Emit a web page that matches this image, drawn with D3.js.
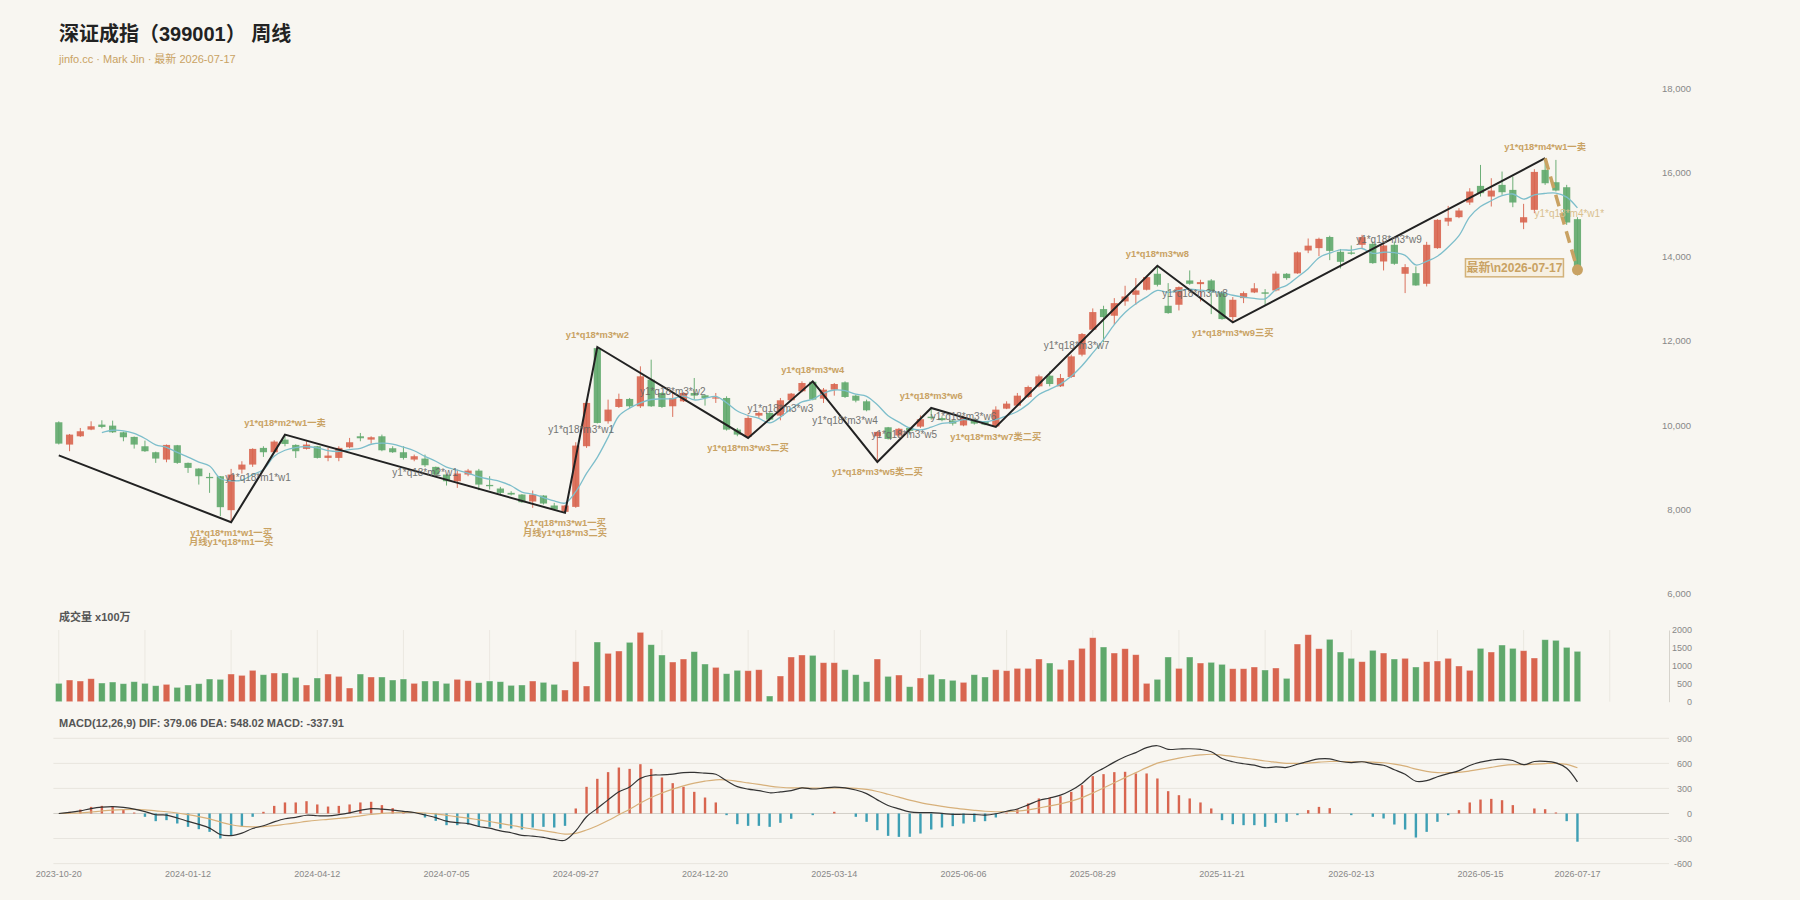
<!DOCTYPE html>
<html>
<head>
<meta charset="utf-8">
<script src="https://cdn.jsdelivr.net/npm/d3@7"></script>
<style>
body { margin: 0; background: #f8f6f1; }
svg { display: block; font-family: "Helvetica Neue", Arial, "Liberation Sans", "Noto Sans CJK SC", sans-serif; }
</style>
</head>
<body>
<svg id="chart" width="1800" height="900"></svg>
<script>
// weekly candles, index 0 = 2023-10-20 ... 141 = 2026-07-17
const open = [10068,9538,9735,9894,10012,9988,9830,9720,9498,9356,
  9182,9522,9103,8968,8770,8786,7980,8944,9063,9459,
  9356,9656,9530,9435,9498,9221,9221,9474,9735,9656,
  9735,9451,9356,9182,9205,9008,8826,8667,8826,8920,
  8580,8494,8391,8351,8185,8327,8090,7940,8058,9499,
  11830,10092,10432,10622,10448,11080,10764,10448,10566,10764,
  10709,10630,10645,9894,9720,10226,10290,10226,10590,10804,
  11030,10629,10843,11017,10700,10566,9736,9949,9755,9933,
  9965,10200,10167,10111,9993,10131,10091,9970,10392,10463,
  10669,10922,11175,10922,11144,11674,12267,12757,12599,12939,
  13097,13216,13596,12836,12860,13437,13350,13437,13152,12567,
  13018,13152,13155,13200,13596,13605,14149,14205,14470,14118,
  14102,14284,14308,13888,14284,13596,13611,13358,14205,14837,
  14941,15289,15684,15431,15708,15589,14814,15115,16064,15771,
  15652,14893]
const close = [9561,9775,9854,9973,9957,9830,9712,9538,9380,9206,
  9530,9103,8984,8786,8740,8051,8826,9063,9435,9356,
  9609,9553,9380,9538,9221,9277,9459,9593,9688,9712,
  9403,9356,9221,9261,9047,8826,8667,8850,8920,8588,
  8549,8391,8351,8169,8351,8138,7995,8090,9514,10527,
  10052,10369,10622,10448,11160,10448,10432,10645,10764,10701,
  10645,10661,9894,9775,10171,10290,10131,10590,10748,11001,
  10606,10843,10977,10669,10582,10353,9839,9672,9913,9866,
  10140,10167,10119,10036,10190,10036,10012,10368,10511,10700,
  10906,11160,10977,11120,11634,12164,12686,12567,12899,13057,
  13200,13516,13334,12662,13279,13358,13398,13176,12520,12978,
  13137,13250,13121,13600,13493,14105,14264,14426,14140,13880,
  14070,14466,13849,14268,13833,13754,13319,14284,14877,14925,
  15099,15550,15510,15573,15534,15289,14940,16016,15747,15573,
  14814,13650]
const low = [9540,9380,9720,9880,9925,9814,9617,9443,9364,9103,
  9118,9080,8865,8588,8391,7837,7694,8849,9008,9245,
  9340,9498,9221,9420,9206,9142,9142,9450,9617,9561,
  9380,9340,9182,9142,9008,8786,8565,8509,8786,8454,
  8470,8351,8330,8153,8035,8114,7979,7916,8035,9459,
  10040,10036,10408,10408,10408,10432,10408,10195,10550,10606,
  10464,10527,9870,9736,9696,10171,10092,10115,10570,10780,
  10590,10527,10700,10645,10542,10329,9127,9657,9720,9775,
  9933,10131,10092,9990,9973,10012,9996,9957,10380,10447,
  10645,10898,10922,10906,11120,11634,12251,11966,12385,12836,
  12860,13200,13295,12646,12725,13335,12939,12638,12504,12441,
  12899,13137,12860,13176,13453,13595,14086,14015,13920,13722,
  14047,14205,13833,13675,13809,13137,13311,13295,14189,14734,
  14917,15233,15431,15194,15471,15178,14656,15035,15708,15550,
  14758,13556]
const high = [10090,9790,9933,10091,10115,10107,9845,9730,9632,9370,
  9540,9530,9110,8975,8865,8790,8960,9142,9450,9498,
  9640,9775,9545,9617,9505,9459,9498,9696,9814,9735,
  9775,9498,9498,9300,9300,9015,8830,8944,8960,8960,
  8786,8533,8430,8360,8446,8335,8153,8100,9593,10540,
  11856,10606,10748,10645,11397,11555,10780,10764,10780,11120,
  10725,10764,10685,9933,10250,10329,10305,10645,10764,11040,
  11041,10882,11001,11040,10725,10606,9855,9957,9933,9957,
  10230,10408,10210,10120,10210,10147,10100,10447,10566,10764,
  10938,11199,11278,11215,11674,12188,12773,12836,13018,13311,
  13493,13548,13785,13374,13295,13675,13453,13469,13176,13042,
  13176,13374,13232,13651,13611,14126,14434,14454,14500,14185,
  14268,14521,14363,14379,14363,13825,13770,14355,14893,15209,
  15154,15629,16182,15866,16024,15906,15257,16080,16341,16301,
  15708,14940]
// volume, x100万
const volume = [512,605,577,642,521,549,503,559,512,447,
  484,400,466,503,633,624,772,735,875,754,
  800,800,679,466,661,772,707,382,772,689,
  689,605,633,512,577,577,512,624,586,531,
  577,559,456,466,577,540,484,326,1117,438,
  1665,1349,1414,1656,1935,1591,1303,1107,1191,1396,
  1051,958,782,875,865,893,159,717,1247,1303,
  1293,1089,1089,893,754,559,1191,707,744,419,
  661,763,633,596,540,754,689,893,865,930,
  930,1191,1079,903,1163,1488,1786,1526,1358,1479,
  1312,512,624,1247,930,1247,1079,1098,1042,921,
  921,968,884,940,651,1609,1870,1479,1740,1386,
  1210,1117,1433,1358,1191,1210,968,1117,1135,1210,
  996,875,1488,1386,1581,1488,1423,1219,1730,1712,
  1516,1405]
// MA5 (first 4 weeks empty)
const ma5 = [null,null,null,null,9824,9878,9865,9802,9683,9533,
  9473,9351,9241,9122,9029,8733,8677,8693,8823,8946,
  9258,9403,9467,9487,9460,9394,9375,9418,9448,9546,
  9571,9550,9476,9391,9258,9142,9004,8930,8862,8770,
  8715,8660,8560,8410,8362,8280,8201,8149,8418,8853,
  9236,9710,10217,10404,10530,10609,10622,10627,10690,10598,
  10637,10683,10533,10335,10229,10158,10052,10191,10386,10552,
  10615,10758,10835,10819,10735,10685,10484,10223,10072,9929,
  9886,9952,10041,10066,10130,10110,10079,10128,10223,10325,
  10499,10729,10851,10973,11159,11411,11716,12034,12390,12675,
  12882,13048,13201,13154,13198,13230,13206,13175,13146,13086,
  13042,13012,13001,13217,13320,13514,13717,13978,14086,14163,
  14156,14196,14081,14107,14097,14034,13805,13892,14013,14232,
  14501,14947,15192,15331,15453,15491,15369,15470,15505,15513,
  15418,15160]
// MACD(12,26,9)
const macdHist = [0,20,47,79,91,83,51,11,-40,-92,
  -80,-120,-160,-188,-220,-300,-260,-160,-40,20,
  91,132,132,147,108,83,91,108,132,140,
  100,64,28,0,-48,-88,-140,-140,-132,-160,
  -160,-180,-180,-192,-168,-160,-168,-148,60,319,
  415,495,550,534,590,534,431,363,319,259,
  191,132,-20,-128,-148,-148,-160,-112,-64,0,
  -20,0,20,0,-40,-100,-200,-268,-280,-280,
  -240,-192,-168,-152,-120,-100,-92,-48,10,51,
  120,180,191,207,259,339,447,471,495,499,
  479,479,419,267,219,180,132,60,-80,-128,
  -140,-140,-160,-112,-100,-20,40,79,64,0,
  -20,0,-40,-60,-132,-192,-288,-220,-100,-20,
  40,132,167,175,159,100,0,60,51,12,
  -92,-338]
const dif = [0,13,32,58,75,82,72,53,23,-15,
  -19,-54,-94,-131,-175,-252,-265,-235,-180,-147,
  -100,-63,-47,-21,-27,-29,-14,8,37,58,
  51,41,26,12,-18,-49,-92,-110,-122,-156,
  -176,-209,-231,-261,-270,-286,-311,-320,-208,-39,
  61,163,259,318,420,458,461,472,490,492,
  482,469,391,321,292,274,248,258,274,306,
  293,303,316,306,281,238,163,96,55,20,
  10,10,1,-10,-9,-12,-19,-3,27,54,
  103,156,185,219,278,360,470,541,615,679,
  729,789,811,768,772,775,767,739,659,619,
  595,578,548,558,551,589,624,653,654,622,
  609,619,594,577,524,470,386,393,440,478,
  513,575,614,639,651,634,584,622,624,606,
  542,379]
const dea = [0,3,8,18,30,40,46,48,43,31,
  21,6,-14,-37,-65,-102,-135,-155,-160,-157,
  -146,-129,-113,-95,-81,-71,-59,-46,-29,-12,
  1,9,12,12,6,-5,-22,-40,-56,-76,
  -96,-119,-141,-165,-186,-206,-227,-246,-238,-198,
  -147,-85,-16,51,125,191,245,291,331,363,
  387,403,401,385,366,348,328,314,306,306,
  303,303,306,306,301,288,263,230,195,160,
  130,106,85,66,51,38,27,21,22,28,
  43,66,90,116,148,190,246,305,367,429,
  489,549,602,635,662,685,701,709,699,683,
  665,648,628,614,601,599,604,614,622,622,
  619,619,614,607,590,566,530,503,490,488,
  493,509,530,552,572,584,584,592,598,600,
  588,548]

// x-axis tick labels
const tickIdx = [0,12,24,36,48,60,72,84,96,108,120,132,141]
const tickLabels = ['2023-10-20','2024-01-12','2024-04-12','2024-07-05','2024-09-27','2024-12-20',
  '2025-03-14','2025-06-06','2025-08-29','2025-11-21','2026-02-13','2026-05-15','2026-07-17']

// zigzag (缠论笔) turning points
const zzIdx = [0,16,21,47,50,64,70,76,81,87,102,109,138]
const zzVal = [9280,7694,9775,7916,11856,9696,11041,9127,10408,9957,13785,12441,16341]
const zzNote = ['', 'y1*q18*m1*w1一买|月线y1*q18*m1一买', 'y1*q18*m2*w1一卖',
  'y1*q18*m3*w1一买|月线y1*q18*m3二买', 'y1*q18*m3*w2', 'y1*q18*m3*w3二买', 'y1*q18*m3*w4',
  'y1*q18*m3*w5类二买', 'y1*q18*m3*w6', 'y1*q18*m3*w7类二买', 'y1*q18*m3*w8', 'y1*q18*m3*w9三买',
  'y1*q18*m4*w1一卖']
// name of the stroke ending at each turning point
const segName = ['', '', 'y1*q18*m1*w1', 'y1*q18*m2*w1', 'y1*q18*m3*w1', 'y1*q18*m3*w2', 'y1*q18*m3*w3',
  'y1*q18*m3*w4', 'y1*q18*m3*w5', 'y1*q18*m3*w6', 'y1*q18*m3*w7', 'y1*q18*m3*w8', 'y1*q18*m3*w9']
// unfinished stroke
const pendIdx = 141, pendVal = 13690, pendName = 'y1*q18*m4*w1*'

const UP = '#d8654f', DOWN = '#5fa86b'
const TAN = '#c9a263'

const W = 1800, H = 900
const svg = d3.select('#chart')
svg.append('rect').attr('width', W).attr('height', H).attr('fill', '#f8f6f1')

const x = d3.scaleBand().domain(d3.range(150)).range([53.4, 1669])
const cx = i => x(i) + x.bandwidth() / 2
const yMain = d3.scaleLinear().domain([6000, 18000]).range([593.5, 88.4])
const yVol = d3.scaleLinear().domain([0, 2000]).range([701.7, 630])
const yMacd = d3.scaleLinear().domain([-600, 900]).range([863.6, 738.3])
const n = close.length
const idx = d3.range(n)
const col = i => close[i] >= open[i] ? UP : DOWN

// title
svg.append('text').attr('x', 59).attr('y', 41).attr('font-size', 20).attr('font-weight', 'bold')
  .attr('fill', '#222').text('深证成指（399001） 周线')
svg.append('text').attr('x', 59).attr('y', 63).attr('font-size', 11).attr('fill', TAN)
  .text('jinfo.cc · Mark Jin · 最新 2026-07-17')

// ---- main panel ----
let mainAxis = svg.append('g').attr('transform', 'translate(1669,0)')
  .call(d3.axisRight(yMain).tickValues(d3.range(6000, 18001, 2000)).tickSize(0).tickPadding(22).tickFormat(d3.format(',')))
mainAxis.select('.domain').remove()
mainAxis.selectAll('text').attr('text-anchor', 'end').attr('fill', '#888').attr('font-size', 9.5)

let candles = svg.append('g').selectAll('g').data(idx).enter().append('g')
candles.append('line')
  .attr('x1', i => cx(i)).attr('x2', i => cx(i))
  .attr('y1', i => yMain(high[i])).attr('y2', i => yMain(low[i]))
  .attr('stroke', col).attr('stroke-width', 1).attr('opacity', 0.9)
candles.append('rect')
  .attr('x', i => cx(i) - 3.6).attr('width', 7.2)
  .attr('y', i => yMain(Math.max(open[i], close[i])))
  .attr('height', i => Math.max(1, Math.abs(yMain(open[i]) - yMain(close[i]))))
  .attr('fill', col).attr('opacity', 0.9)

svg.append('path').datum(idx)
  .attr('fill', 'none').attr('stroke', '#7dbecb').attr('stroke-width', 1.3)
  .attr('d', d3.line().defined(i => ma5[i] != null).x(i => cx(i)).y(i => yMain(ma5[i])).curve(d3.curveCatmullRom))

// zigzag
let zz = zzIdx.map((d, k) => ({ i: d, v: zzVal[k], k: k }))
svg.append('path').datum(zz)
  .attr('fill', 'none').attr('stroke', '#222').attr('stroke-width', 2)
  .attr('d', d3.line().x(d => cx(d.i)).y(d => yMain(d.v)))

let last = zz[zz.length - 1]
svg.append('line')
  .attr('x1', cx(last.i)).attr('y1', yMain(last.v)).attr('x2', cx(pendIdx)).attr('y2', yMain(pendVal))
  .attr('stroke', TAN).attr('stroke-width', 3.5).attr('stroke-dasharray', '12,7')
svg.append('circle').attr('cx', cx(pendIdx)).attr('cy', yMain(pendVal)).attr('r', 5.5).attr('fill', TAN)

// stroke names at segment midpoints
zz.forEach((d, k) => {
  if (!segName[k]) return
  let p = zz[k - 1]
  svg.append('text')
    .attr('x', (cx(p.i) + cx(d.i)) / 2).attr('y', (yMain(p.v) + yMain(d.v)) / 2)
    .attr('text-anchor', 'middle').attr('dominant-baseline', 'middle')
    .attr('font-size', 10).attr('fill', '#666').attr('opacity', 0.9).text(segName[k])
})
svg.append('text')
  .attr('x', (cx(last.i) + cx(pendIdx)) / 2 + 8).attr('y', (yMain(last.v) + yMain(pendVal)) / 2)
  .attr('text-anchor', 'middle').attr('dominant-baseline', 'middle')
  .attr('font-size', 10).attr('fill', '#d9bf8e').text(pendName)

// turning point notes
zz.forEach((d, k) => {
  if (!zzNote[k]) return
  let prev = zz[k - 1], isPeak = d.v > prev.v
  let lines = zzNote[k].split('|')
  lines.forEach((t, j) => {
    svg.append('text')
      .attr('x', cx(d.i))
      .attr('y', isPeak ? yMain(d.v) - 11 : yMain(d.v) + 11 + j * 9.5)
      .attr('text-anchor', 'middle').attr('dominant-baseline', 'middle')
      .attr('font-size', 9.3).attr('font-weight', 'bold').attr('fill', TAN).text(t)
  })
})

// latest box
let bx = cx(pendIdx) - 14, by = yMain(pendVal) - 2
svg.append('rect').attr('x', bx - 98).attr('y', by - 9).attr('width', 98).attr('height', 18)
  .attr('fill', '#f6efe1').attr('stroke', '#d3b27a').attr('stroke-width', 1.5)
svg.append('text').attr('x', bx - 49).attr('y', by + 1).attr('text-anchor', 'middle')
  .attr('dominant-baseline', 'middle').attr('font-size', 12).attr('font-weight', 'bold')
  .attr('fill', TAN).text('最新\\n2026-07-17')

// ---- volume panel ----
svg.append('text').attr('x', 59).attr('y', 621).attr('font-size', 11).attr('font-weight', 'bold')
  .attr('fill', '#555').text('成交量 x100万')
svg.append('g').selectAll('line').data(d3.range(0, 145, 8)).enter().append('line')
  .attr('x1', i => cx(i)).attr('x2', i => cx(i)).attr('y1', yVol(2000)).attr('y2', yVol(0))
  .attr('stroke', '#ebe8e1').attr('stroke-width', 1)
let volAxis = svg.append('g').attr('transform', 'translate(1669,0)')
  .call(d3.axisRight(yVol).tickValues([0, 500, 1000, 1500, 2000]).tickSize(0).tickSizeOuter(0).tickPadding(23)
    .tickFormat(d => String(d)))
volAxis.select('.domain').attr('stroke', '#d6d3cc')
volAxis.selectAll('text').attr('text-anchor', 'end').attr('fill', '#888').attr('font-size', 9)
svg.append('g').selectAll('rect').data(idx).enter().append('rect')
  .attr('x', i => cx(i) - 3.3).attr('width', 6.6)
  .attr('y', i => yVol(volume[i])).attr('height', i => yVol(0) - yVol(volume[i]))
  .attr('fill', col).attr('stroke', 'rgba(255,255,255,0.45)').attr('stroke-width', 0.8)

// ---- MACD panel ----
svg.append('text').attr('x', 59).attr('y', 727).attr('font-size', 11).attr('font-weight', 'bold')
  .attr('fill', '#555').text('MACD(12,26,9) DIF: 379.06 DEA: 548.02 MACD: -337.91')
let macdTicks = [-600, -300, 0, 300, 600, 900]
svg.append('g').selectAll('line').data(macdTicks).enter().append('line')
  .attr('x1', 53.4).attr('x2', 1669).attr('y1', d => yMacd(d)).attr('y2', d => yMacd(d))
  .attr('stroke', d => d === 0 ? '#d2cfc8' : '#e8e5de').attr('stroke-width', 1)
let macdAxis = svg.append('g').attr('transform', 'translate(1669,0)')
  .call(d3.axisRight(yMacd).tickValues(macdTicks).tickSize(0).tickPadding(23).tickFormat(d => String(d)))
macdAxis.select('.domain').remove()
macdAxis.selectAll('text').attr('text-anchor', 'end').attr('fill', '#888').attr('font-size', 9)

svg.append('g').selectAll('rect').data(idx).enter().append('rect')
  .attr('x', i => cx(i) - 1.2).attr('width', 2.4)
  .attr('y', i => yMacd(Math.max(0, macdHist[i])))
  .attr('height', i => Math.abs(yMacd(macdHist[i]) - yMacd(0)))
  .attr('fill', i => macdHist[i] >= 0 ? '#d8654f' : '#3e9fb4')

svg.append('path').datum(idx).attr('fill', 'none').attr('stroke', '#d7b07a').attr('stroke-width', 1.2)
  .attr('d', d3.line().x(i => cx(i)).y(i => yMacd(dea[i])).curve(d3.curveCatmullRom))
svg.append('path').datum(idx).attr('fill', 'none').attr('stroke', '#333').attr('stroke-width', 1.2)
  .attr('d', d3.line().x(i => cx(i)).y(i => yMacd(dif[i])).curve(d3.curveCatmullRom))

// x axis
let xAxis = svg.append('g').attr('transform', 'translate(0,866)')
  .call(d3.axisBottom(x).tickValues(tickIdx).tickSize(0).tickPadding(5)
    .tickFormat(i => tickLabels[tickIdx.indexOf(i)]))
xAxis.select('.domain').remove()
xAxis.selectAll('text').attr('fill', '#888').attr('font-size', 9)
</script>
</body>
</html>
